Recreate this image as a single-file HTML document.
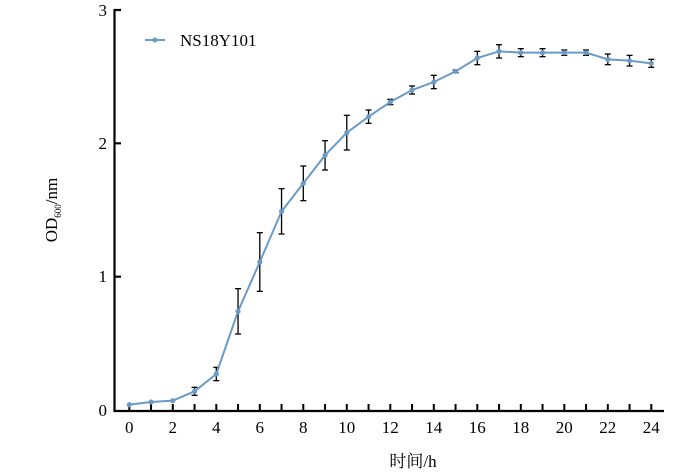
<!DOCTYPE html>
<html><head><meta charset="utf-8"><style>body{margin:0;background:#fff}svg{display:block}</style></head><body>
<svg width="700" height="473" xmlns="http://www.w3.org/2000/svg" font-family="Liberation Serif, Noto Serif CJK SC, serif">
<g stroke="#000" stroke-width="2.2" fill="none">
<path d="M114.5,9 V411 H664"/>
<path d="M114.5,10 H121 M114.5,143.3 H121 M114.5,276.7 H121"/>
</g>
<g id="xt" stroke="#000" stroke-width="2"></g>
<g font-size="17" fill="#000" text-anchor="end">
<text x="107" y="16">3</text><text x="107" y="149">2</text><text x="107" y="282">1</text><text x="107" y="416">0</text>
</g>
<g id="xl" font-size="17" text-anchor="middle"></g>
<text x="413" y="467" font-size="17" text-anchor="middle">时间/h</text>
<text transform="translate(57,210) rotate(-90)" font-size="17" text-anchor="middle">OD<tspan font-size="9" dy="4">600</tspan><tspan dy="-4">/nm</tspan></text>
<line x1="145" y1="40" x2="165" y2="40" stroke="#6a9bc6" stroke-width="2"/><circle cx="155" cy="40" r="2.5" fill="#6a9bc6"/>
<text x="180" y="46" font-size="17">NS18Y101</text>
<g id="eb" stroke="#000" stroke-width="1.3"></g>
<polyline id="ln" fill="none" stroke="#6a9bc6" stroke-width="2"/>
<g id="pt" fill="#6a9bc6"></g>
<script>
var d=[.04,.06,.07,.14,.27,.74,1.11,1.49,1.70,1.91,2.08,2.20,2.31,2.40,2.46,2.54,2.64,2.69,2.68,2.68,2.68,2.68,2.63,2.62,2.60];
var e=[0,0,0,.03,.05,.17,.22,.17,.13,.11,.13,.05,.02,.03,.05,.01,.05,.05,.03,.03,.02,.02,.04,.04,.03];
var X=h=>129.3+h*21.75,Y=v=>410-133.33*v,ns="http://www.w3.org/2000/svg";
var xt=document.getElementById('xt'),xl=document.getElementById('xl'),eb=document.getElementById('eb'),pt=document.getElementById('pt'),pts=[];
function el(p,t,a){var n=document.createElementNS(ns,t);for(var k in a)n.setAttribute(k,a[k]);p.appendChild(n);return n}
for(var i=0;i<25;i++){var x=X(i);el(xt,'line',{x1:x,x2:x,y1:411,y2:404});
if(i%2==0){el(xl,'text',{x:x,y:433}).textContent=i;}
var y=Y(d[i]);pts.push(x+','+y);
if(e[i]>0){var a=Y(d[i]+e[i]),b=Y(d[i]-e[i]);el(eb,'line',{x1:x,x2:x,y1:a,y2:b});el(eb,'line',{x1:x-3,x2:x+3,y1:a,y2:a});el(eb,'line',{x1:x-3,x2:x+3,y1:b,y2:b});}
el(pt,'circle',{cx:x,cy:y,r:2.6});}
document.getElementById('ln').setAttribute('points',pts.join(' '));
</script>
</svg>
</body></html>
